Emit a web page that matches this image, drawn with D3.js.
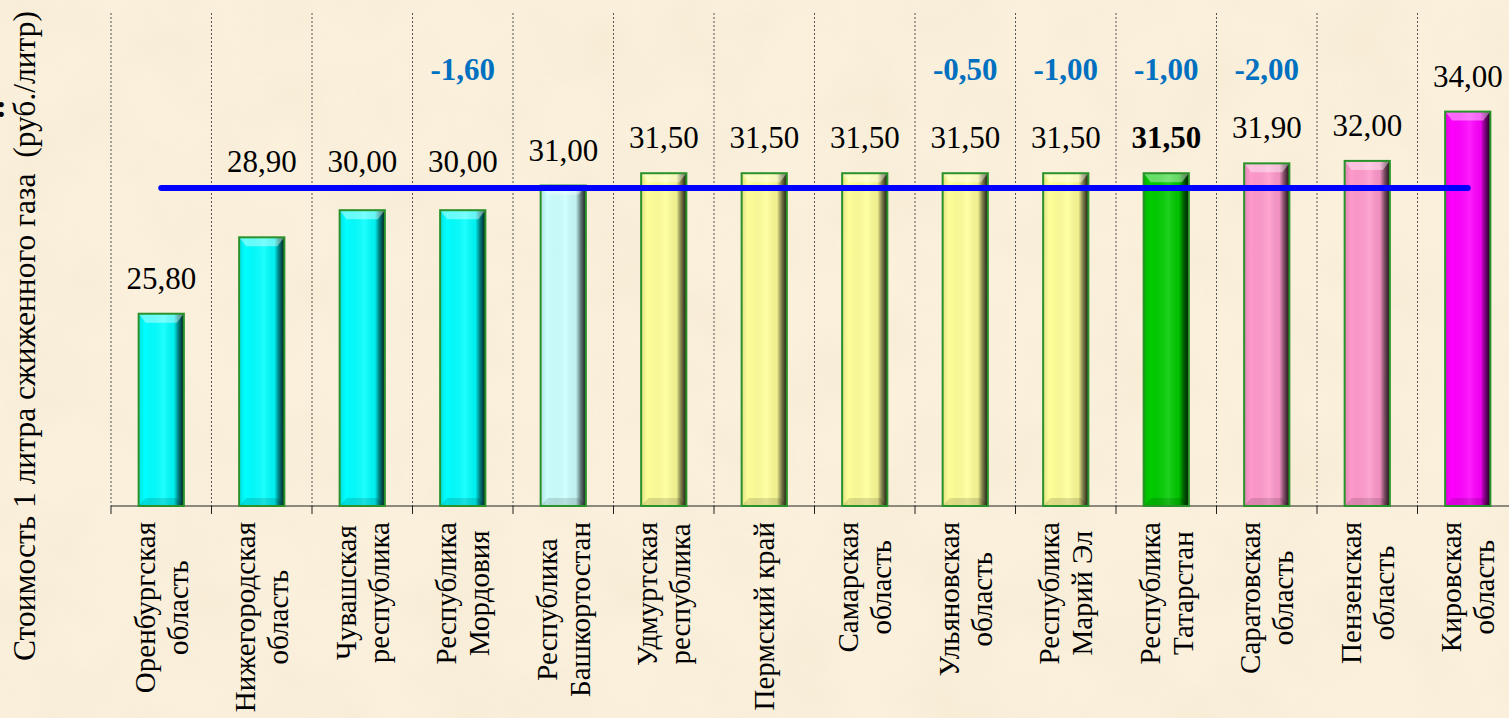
<!DOCTYPE html>
<html>
<head>
<meta charset="utf-8">
<script src="https://cdn.jsdelivr.net/npm/d3@7"></script>
<style>
  body { margin: 0; background: #faf0dc; }
  svg { display: block; }
</style>
</head>
<body>
<svg width="1509" height="718"></svg>
<script>
// regions (line breaks as in the original)
var categories = [
  "Оренбургская\nобласть", "Нижегородская\nобласть", "Чувашская\nреспублика",
  "Республика\nМордовия", "Республика\nБашкортостан", "Удмуртская\nреспублика",
  "Пермский край", "Самарская\nобласть", "Ульяновская\nобласть",
  "Республика\nМарий Эл", "Республика\nТатарстан", "Саратовская\nобласть",
  "Пензенская\nобласть", "Кировская\nобласть"
];
// price of 1 litre of LPG, rub.
var prices = [25.80, 28.90, 30.00, 30.00, 31.00, 31.50, 31.50, 31.50, 31.50, 31.50, 31.50, 31.90, 32.00, 34.00];
// change shown in blue above some bars
var changes = [null, null, null, -1.60, null, null, null, null, -0.50, -1.00, -1.00, -2.00, null, null];
// colour group of each bar
var groups = ["low", "low", "low", "low", "base", "mid", "mid", "mid", "mid", "mid", "own", "high", "high", "max"];
var highlight = "Республика\nТатарстан";
var yTitle = "Стоимость 1 литра сжиженного газа  (руб./литр)";

var serif = "'Liberation Serif', 'Times New Roman', Tinos, serif";

var svg = d3.select("svg").style("font-family", serif),
    width = +svg.attr("width"),
    height = +svg.attr("height");

var left = 111, step = 100.5, plotTop = 13, bottom = 506;

var x = d3.scaleBand()
    .domain(categories)
    .range([left, left + step * categories.length])
    .padding(0);

var y = d3.scaleLinear()
    .domain([18, 38])
    .range([bottom, plotTop]);

var color = d3.scaleOrdinal()
    .domain(["low", "base", "mid", "own", "high", "max"])
    .range(["#00ffff", "#ccffff", "#ffff99", "#00cc00", "#ff99cc", "#ff00ff"]);

var fmt = d3.formatLocale({decimal: ",", thousands: " ", grouping: [3], currency: ["", ""], minus: "-"}).format(".2f");

var defs = svg.append("defs");

// parchment-like background
var paper = defs.append("filter").attr("id", "paper")
    .attr("x", 0).attr("y", 0).attr("width", "100%").attr("height", "100%");
paper.append("feTurbulence")
    .attr("type", "fractalNoise")
    .attr("baseFrequency", 0.012)
    .attr("numOctaves", 4)
    .attr("seed", 7);
paper.append("feColorMatrix")
    .attr("type", "matrix")
    .attr("values", "0 0 0 0 0.78  0 0 0 0 0.62  0 0 0 0 0.38  0.55 0 0 0 -0.2");

svg.append("rect").attr("width", width).attr("height", height).attr("fill", "#faf0dc");
svg.append("rect").attr("width", width).attr("height", height).attr("filter", "url(#paper)").attr("opacity", 0.4);

// shading across each bar
var shade = defs.append("linearGradient").attr("id", "shade")
    .attr("x1", 0).attr("x2", 1).attr("y1", 0).attr("y2", 0);
[[0, "#000", 0.12], [0.14, "#000", 0.0], [0.55, "#fff", 0.12], [0.78, "#000", 0.06],
 [0.88, "#000", 0.5], [1, "#000", 0.9]].forEach(function(s) {
  shade.append("stop").attr("offset", s[0]).attr("stop-color", s[1]).attr("stop-opacity", s[2]);
});

// dotted separators between regions + ticks below the axis
var bounds = categories.map(function(d) { return x(d); }).concat([x.range()[1]]);

svg.append("g").selectAll("line")
    .data(bounds)
    .join("line")
    .attr("x1", function(d) { return d; })
    .attr("x2", function(d) { return d; })
    .attr("y1", plotTop)
    .attr("y2", bottom)
    .attr("stroke", "#555")
    .attr("stroke-width", 1)
    .attr("stroke-dasharray", "2,2");

svg.append("g").selectAll("line")
    .data(bounds)
    .join("line")
    .attr("x1", function(d) { return d; })
    .attr("x2", function(d) { return d; })
    .attr("y1", bottom)
    .attr("y2", bottom + 8)
    .attr("stroke", "#222");

svg.append("line")
    .attr("x1", left).attr("x2", x.range()[1])
    .attr("y1", bottom).attr("y2", bottom)
    .attr("stroke", "#222");

// bars
var bw = step * 0.45;
var bars = svg.append("g").selectAll("g")
    .data(categories)
    .join("g")
    .attr("transform", function(d) { return "translate(" + (x(d) + x.bandwidth() / 2 - bw / 2) + ",0)"; });

bars.append("rect")
    .attr("y", function(d, i) { return y(prices[i]); })
    .attr("width", bw)
    .attr("height", function(d, i) { return bottom - y(prices[i]); })
    .attr("fill", function(d, i) { return color(groups[i]); });

bars.append("rect")
    .attr("y", function(d, i) { return y(prices[i]); })
    .attr("width", bw)
    .attr("height", function(d, i) { return bottom - y(prices[i]); })
    .attr("fill", "url(#shade)");

// top bevel
bars.append("path")
    .attr("d", function(d, i) {
      var t = y(prices[i]);
      return "M0," + t + "L" + bw + "," + t + "L" + (bw - 7) + "," + (t + 9) + "L7," + (t + 9) + "Z";
    })
    .attr("fill", "#fff")
    .attr("opacity", 0.4);

// bottom bevel
bars.append("path")
    .attr("d", "M0," + bottom + "L" + bw + "," + bottom + "L" + (bw - 7) + "," + (bottom - 8) + "L7," + (bottom - 8) + "Z")
    .attr("fill", "#000")
    .attr("opacity", 0.12);

bars.append("rect")
    .attr("y", function(d, i) { return y(prices[i]); })
    .attr("width", bw)
    .attr("height", function(d, i) { return bottom - y(prices[i]); })
    .attr("fill", "none")
    .attr("stroke", "#2a922a")
    .attr("stroke-width", 2);

// average line
var avg = d3.mean(prices);
var first = categories[0], last = categories[categories.length - 1];
svg.append("line")
    .attr("x1", x(first) + x.bandwidth() / 2)
    .attr("x2", x(last) + x.bandwidth() / 2)
    .attr("y1", y(avg))
    .attr("y2", y(avg))
    .attr("stroke", "#0000ff")
    .attr("stroke-width", 6)
    .attr("stroke-linecap", "round");

// value labels, lifted over the average line when they would hit it
var yA = y(avg);
svg.append("g").selectAll("text")
    .data(categories)
    .join("text")
    .attr("x", function(d) { return x(d) + x.bandwidth() / 2; })
    .attr("y", function(d, i) {
      var b = y(prices[i]) - 25;
      if (b > yA - 10 && b < yA + 45) b = yA - 16;
      return b;
    })
    .attr("text-anchor", "middle")
    .attr("font-size", 31)
    .attr("font-weight", function(d) { return d === highlight ? "bold" : "normal"; })
    .attr("fill", "#000")
    .text(function(d, i) { return fmt(prices[i]); });

// changes
svg.append("g").selectAll("text")
    .data(categories.filter(function(d, i) { return changes[i] !== null; }))
    .join("text")
    .attr("x", function(d) { return x(d) + x.bandwidth() / 2; })
    .attr("y", 80)
    .attr("text-anchor", "middle")
    .attr("font-size", 31)
    .attr("font-weight", "bold")
    .attr("fill", "#0070c0")
    .text(function(d) { return fmt(changes[categories.indexOf(d)]); });

// category labels, rotated
var labels = svg.append("g").selectAll("g")
    .data(categories)
    .join("g")
    .attr("transform", function(d) { return "translate(" + (x(d) + x.bandwidth() / 2) + ",522) rotate(-90)"; });

labels.each(function(d) {
  var lines = d.split("\n");
  var t = d3.select(this).selectAll("text")
      .data(lines)
      .join("text")
      .attr("text-anchor", "middle")
      .attr("font-size", 29)
      .attr("y", function(l, i) { return (i - (lines.length - 1) / 2) * 33 + 10; })
      .text(function(l) { return l; });
  var w = d3.max(t.nodes(), function(n) { return n.getComputedTextLength(); });
  t.attr("x", -w / 2);
});

// y title
svg.append("text")
    .attr("transform", "translate(35,336) rotate(-90)")
    .attr("text-anchor", "middle")
    .attr("font-size", 31.5)
    .style("white-space", "pre")
    .text(yTitle);

// cut-off colon at the left edge
svg.append("text")
    .attr("x", -4)
    .attr("y", 117)
    .attr("font-size", 32)
    .attr("font-weight", "bold")
    .text(":");
</script>
</body>
</html>
